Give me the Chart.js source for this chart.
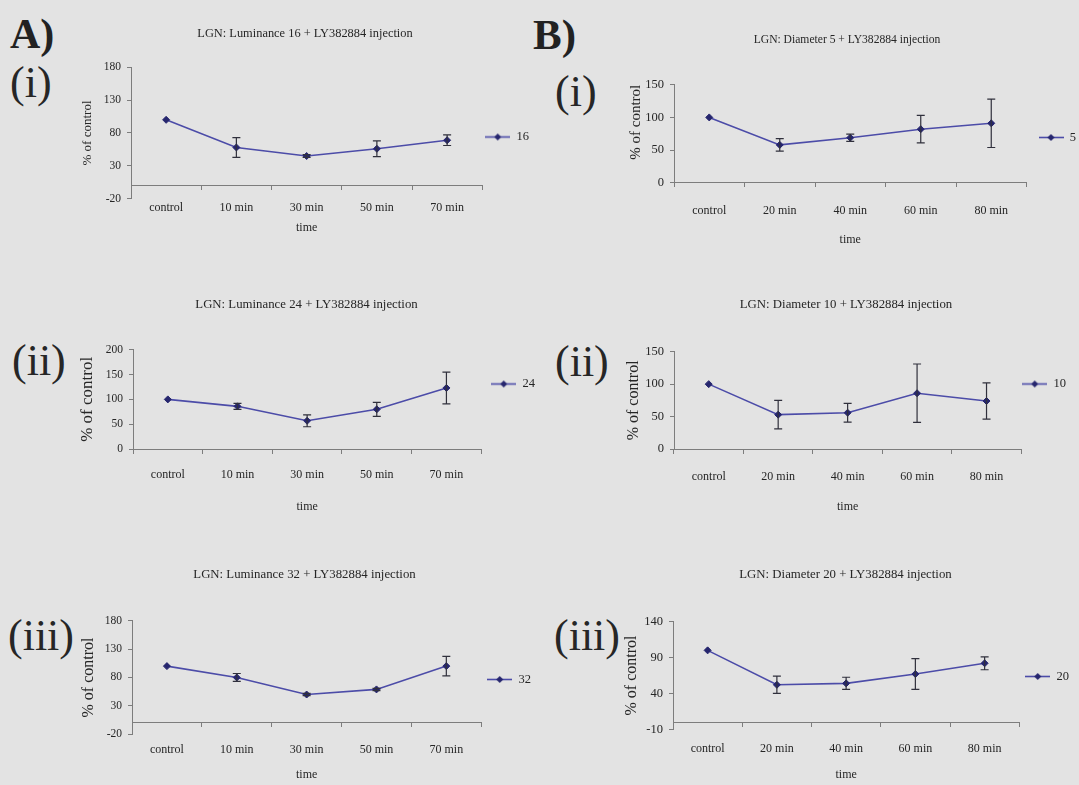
<!DOCTYPE html>
<html>
<head>
<meta charset="utf-8">
<script src="https://cdn.jsdelivr.net/npm/chart.js@4.4.1/dist/chart.umd.min.js"></script>
<style>
  html, body { margin: 0; padding: 0; }
  body {
    width: 1079px; height: 785px; overflow: hidden; position: relative;
    background: #e3e3e3; color: #262626;
    font-family: 'Liberation Serif', 'Times New Roman', serif;
  }
  .panel { position: absolute; }
  .tag { position: absolute; line-height: 1; white-space: nowrap; font-size: 44px; }
  .tag.big { font-weight: bold; font-size: 42px; color: #222; }
</style>
</head>
<body>
<div class="tag big" style="left:10px;top:13px">A)</div>
<div class="tag big" style="left:533px;top:13px;font-size:43px">B)</div>
<div class="tag" style="left:10px;top:61px">(i)</div>
<div class="tag" style="left:555px;top:70px">(i)</div>
<div class="tag" style="left:12px;top:339px">(ii)</div>
<div class="tag" style="left:555px;top:340px">(ii)</div>
<div class="tag" style="left:8px;top:614px">(iii)</div>
<div class="tag" style="left:554px;top:614px">(iii)</div>

<script>
// time points
const lumTimes = ['control', '10 min', '30 min', '50 min', '70 min'];
const diaTimes = ['control', '20 min', '40 min', '60 min', '80 min'];

// % of control, mean and +/- error
const lum16 = [100, 58, 45, 56, 69];
const lum16Err = [0, 15, 2, 12, 8];
const lum24 = [100, 86, 57, 80, 123];
const lum24Err = [0, 6, 12, 14, 32];
const lum32 = [100, 80, 50, 59, 100];
const lum32Err = [0, 7, 2, 2, 17];
const dia5 = [100, 58, 69, 82, 91];
const dia5Err = [0, 9.5, 5.5, 21, 37];
const dia10 = [100, 53, 56, 86, 74];
const dia10Err = [0, 22, 14.5, 45, 28];
const dia20 = [100, 52, 54, 67, 82];
const dia20Err = [0, 12, 8.5, 21.5, 9];

// y axis ticks
const ticksLum = [-20, 30, 80, 130, 180];
const ticks200 = [0, 50, 100, 150, 200];
const ticks150 = [0, 50, 100, 150];
const ticksDia20 = [-10, 40, 90, 140];

const SERIF = "'Liberation Serif', 'Times New Roman', serif";
const INK = '#262626';
const AXIS = '#7d7d7d';
const LINE = '#4c4ca8';
const DOT = '#26266e';
const ERR = '#30303c';

const panels = [
  { title: 'LGN: Luminance 16 + LY382884 injection', series: '16', labels: lumTimes, data: lum16, err: lum16Err, ticks: ticksLum,
    plot: { l: 131, t: 67, r: 482, b: 199 }, titleSize: 12.4, titlePad: { top: 0, bottom: 26.3 },
    yW: 60, yTick: 11.5, yTitleSize: 13, yTitlePad: 9.2, yAlign: 'center',
    xPad: 2, timePad: { top: 3.4, bottom: 13 }, legendPad: 3 },
  { title: 'LGN: Diameter 5 + LY382884 injection', series: '5', labels: diaTimes, data: dia5, err: dia5Err, ticks: ticks150,
    plot: { l: 674, t: 85, r: 1026, b: 183 }, titleSize: 11.6, titlePad: { top: 4.8, bottom: 38 },
    yW: 66, yTick: 12.5, yTitleSize: 15, yTitlePad: 19, yAlign: 'end',
    xPad: 20.5, timePad: { top: -5.6, bottom: 0 }, legendPad: 12 },
  { title: 'LGN: Luminance 24 + LY382884 injection', series: '24', labels: lumTimes, data: lum24, err: lum24Err, ticks: ticks200,
    plot: { l: 133, t: 350, r: 481, b: 449 }, titleSize: 12.8, titlePad: { top: 43, bottom: 37.3 },
    yW: 65, yTick: 11.5, yTitleSize: 17, yTitlePad: 9.3, yAlign: 'center',
    xPad: 18.8, timePad: { top: -1.5, bottom: 0 }, legendPad: 10 },
  { title: 'LGN: Diameter 10 + LY382884 injection', series: '10', labels: diaTimes, data: dia10, err: dia10Err, ticks: ticks150,
    plot: { l: 674, t: 352, r: 1021, b: 449 }, titleSize: 12.8, titlePad: { top: 43, bottom: 39.3 },
    yW: 58, yTick: 12.5, yTitleSize: 16, yTitlePad: 8.4, yAlign: 'center',
    xPad: 20.5, timePad: { top: -4.9, bottom: 0 }, legendPad: 1 },
  { title: 'LGN: Luminance 32 + LY382884 injection', series: '32', labels: lumTimes, data: lum32, err: lum32Err, ticks: ticksLum,
    plot: { l: 132, t: 621, r: 481, b: 735 }, titleSize: 12.8, titlePad: { top: 0, bottom: 38.3 },
    yW: 64, yTick: 11.5, yTitleSize: 16, yTitlePad: 10.9, yAlign: 'center',
    xPad: 8.5, timePad: { top: 2.4, bottom: 9.5 }, legendPad: 6 },
  { title: 'LGN: Diameter 20 + LY382884 injection', series: '20', labels: diaTimes, data: dia20, err: dia20Err, ticks: ticksDia20,
    plot: { l: 673, t: 622, r: 1019, b: 730 }, titleSize: 12.8, titlePad: { top: 0, bottom: 39.3 },
    yW: 61, yTick: 12.5, yTitleSize: 16, yTitlePad: 10.4, yAlign: 'center',
    xPad: 12.8, timePad: { top: -1.2, bottom: 3.5 }, legendPad: 6 },
];

// legend key: line with a diamond on it
const marker = (() => {
  const c = document.createElement('canvas');
  c.width = 25; c.height = 9;
  const g = c.getContext('2d');
  g.strokeStyle = LINE; g.lineWidth = 1.6;
  g.beginPath(); g.moveTo(0, 4.5); g.lineTo(25, 4.5); g.stroke();
  g.fillStyle = DOT;
  g.beginPath(); g.moveTo(12.5, 1); g.lineTo(16, 4.5); g.lineTo(12.5, 8); g.lineTo(9, 4.5); g.closePath(); g.fill();
  return c;
})();

// vertical error bars with caps, from dataset.errors
const errorBars = {
  id: 'errorBars',
  afterDatasetsDraw(chart) {
    const { ctx, scales: { x, y } } = chart;
    ctx.save();
    ctx.strokeStyle = ERR; ctx.lineWidth = 1.2;
    chart.data.datasets.forEach((ds) => {
      (ds.errors || []).forEach((e, i) => {
        if (!e) return;
        const px = x.getPixelForValue(i);
        const hi = y.getPixelForValue(ds.data[i] + e);
        const lo = y.getPixelForValue(ds.data[i] - e);
        ctx.beginPath();
        ctx.moveTo(px, hi); ctx.lineTo(px, lo);
        ctx.moveTo(px - 4, hi); ctx.lineTo(px + 4, hi);
        ctx.moveTo(px - 4, lo); ctx.lineTo(px + 4, lo);
        ctx.stroke();
      });
    });
    ctx.restore();
  },
};

const font = (size) => ({ family: SERIF, size, weight: 'normal' });

function config(p) {
  return {
    type: 'line',
    data: {
      labels: p.labels,
      datasets: [{
        label: p.series, data: p.data, errors: p.err, xAxisID: 'x', yAxisID: 'y',
        borderColor: LINE, borderWidth: 1.6, tension: 0, fill: false,
        pointStyle: 'rectRot', pointRadius: 3.5, pointBackgroundColor: DOT, pointBorderColor: DOT, pointBorderWidth: 1,
      }],
    },
    options: {
      responsive: false, maintainAspectRatio: false, animation: false,
      layout: { padding: 0 },
      plugins: {
        title: { display: true, text: p.title, color: INK, font: font(p.titleSize), padding: p.titlePad },
        legend: {
          position: 'right', align: 'center', fullSize: true,
          labels: { usePointStyle: true, pointStyle: marker, pointStyleWidth: 25, padding: p.legendPad, color: INK, font: font(12.5) },
        },
        tooltip: { enabled: false },
      },
      scales: {
        // category axis crossing at y = 0, only line and tick marks
        x: {
          axis: 'x', type: 'category', position: { y: 0 }, offset: true,
          grid: { offset: true, drawOnChartArea: false, drawTicks: true, tickLength: 4, color: AXIS },
          border: { display: true, color: AXIS, width: 1 },
          ticks: { display: false },
        },
        // category labels and axis title under the plot
        xl: {
          axis: 'x', type: 'category', position: 'bottom', offset: true,
          grid: { display: false, drawTicks: false },
          border: { display: false },
          ticks: { color: INK, font: font(12), padding: p.xPad, maxRotation: 0, autoSkip: false },
          title: { display: true, text: 'time', color: INK, font: font(12), padding: p.timePad },
        },
        y: {
          min: p.ticks[0], max: p.ticks[p.ticks.length - 1],
          afterBuildTicks: (s) => { s.ticks = p.ticks.map((v) => ({ value: v })); },
          afterFit: (s) => { s.width = p.yW; },
          grid: { drawOnChartArea: false, drawTicks: true, tickLength: 4, color: AXIS },
          border: { display: true, color: AXIS, width: 1 },
          ticks: { color: INK, font: font(p.yTick), padding: 6 },
          title: { display: true, text: '% of control', color: INK, font: font(p.yTitleSize), align: p.yAlign, padding: { top: p.yTitlePad, bottom: 0 } },
        },
      },
    },
    plugins: [errorBars],
  };
}

function mount(p) {
  const wrap = document.createElement('div');
  wrap.className = 'panel';
  const canvas = document.createElement('canvas');
  canvas.width = 520; canvas.height = 260;
  wrap.appendChild(canvas);
  document.body.appendChild(wrap);
  const chart = new Chart(canvas, config(p));
  // size the canvas so the plot area gets the wanted size, then place it
  const a = chart.chartArea;
  const w = Math.round(chart.width + (p.plot.r - p.plot.l) - (a.right - a.left));
  const h = Math.round(chart.height + (p.plot.b - p.plot.t) - (a.bottom - a.top));
  chart.resize(w, h);
  const b = chart.chartArea;
  wrap.style.left = (p.plot.l - b.left) + 'px';
  wrap.style.top = (p.plot.t - b.top) + 'px';
  return chart;
}

panels.forEach(mount);
</script>
</body>
</html>
